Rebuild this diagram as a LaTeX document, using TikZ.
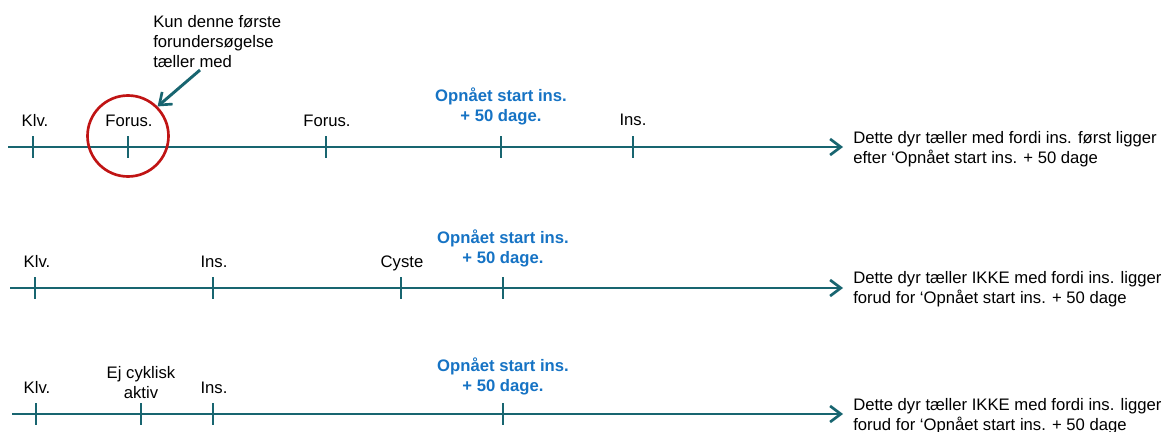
\documentclass[tikz,border=0pt]{standalone}
\usepackage{fontspec}
\setmainfont{Liberation Sans}
\usetikzlibrary{arrows.meta}
\definecolor{tealline}{RGB}{24,101,112}
\definecolor{lblue}{RGB}{22,115,196}
\definecolor{cred}{RGB}{192,20,20}
\begin{document}
\begin{tikzpicture}[x=0.75pt,y=-0.75pt,
  tip/.style={-{Straight Barb[length=8pt,width=12pt,line width=2pt]}},
  axis/.style={draw=tealline,line width=2.2pt,tip},
  tickmark/.style={draw=tealline,line width=2.2pt},
  lbl/.style={font=\fontsize{12.5}{15}\selectfont,anchor=base,inner sep=0pt,align=center},
  bluelbl/.style={lbl,text=lblue,font=\fontsize{12.5}{15}\selectfont\bfseries},
  note/.style={font=\fontsize{12.5}{15}\selectfont,anchor=base west,inner sep=0pt,align=left}]
\useasboundingbox (0,0) rectangle (1168,432);

% ---------- timeline 1 ----------
\coordinate (s1) at (8,147);
\coordinate (e1) at (843,147);
\draw[axis] (s1) -- (e1);
\foreach \x in {33,128,326,501,633} \draw[tickmark] (\x,136) -- (\x,158);
\node[lbl] (k1) at (35,126) {Klv.};
\node[lbl] (f1) at (129,126) {Forus.};
\node[lbl] (f2) at (327,126) {Forus.};
\node[bluelbl] (o1) at (501,121) {Opnået start ins.\\+ 50 dage.};
\node[lbl] (i1) at (633,125) {Ins.};
\node[note] (t1) at (853,163) {Dette dyr tæller med fordi ins. først ligger\\efter ‘Opnået start ins. + 50 dage};
\node[draw=cred,line width=2pt,circle,minimum size=81*0.75pt,inner sep=0pt] (circ) at (128,136) {};
\node[note] (ann) at (153,67) {Kun denne første\\forundersøgelse\\tæller med};
\coordinate (a0) at (200,70);
\draw[draw=tealline,line width=2.2pt,tip] (a0) -- (circ.45);

% ---------- timeline 2 ----------
\coordinate (s2) at (10,288);
\coordinate (e2) at (843,288);
\draw[axis] (s2) -- (e2);
\foreach \x in {35,213,401,503} \draw[tickmark] (\x,277) -- (\x,299);
\node[lbl] (k2) at (37,267) {Klv.};
\node[lbl] (i2) at (214,267) {Ins.};
\node[lbl] (c2) at (402,267) {Cyste};
\node[bluelbl] (o2) at (503,263) {Opnået start ins.\\+ 50 dage.};
\node[note] (t2) at (853,303) {Dette dyr tæller IKKE med fordi ins. ligger\\forud for ‘Opnået start ins. + 50 dage};

% ---------- timeline 3 ----------
\coordinate (s3) at (12,414);
\coordinate (e3) at (843,414);
\draw[axis] (s3) -- (e3);
\foreach \x in {36,141,213,503} \draw[tickmark] (\x,403) -- (\x,425);
\node[lbl] (k3) at (37,393) {Klv.};
\node[lbl] (ej) at (141,398) {Ej cyklisk\\aktiv};
\node[lbl] (i3) at (214,393) {Ins.};
\node[bluelbl] (o3) at (503,391) {Opnået start ins.\\+ 50 dage.};
\node[note] (t3) at (853,430) {Dette dyr tæller IKKE med fordi ins. ligger\\forud for ‘Opnået start ins. + 50 dage};
\end{tikzpicture}
\end{document}
